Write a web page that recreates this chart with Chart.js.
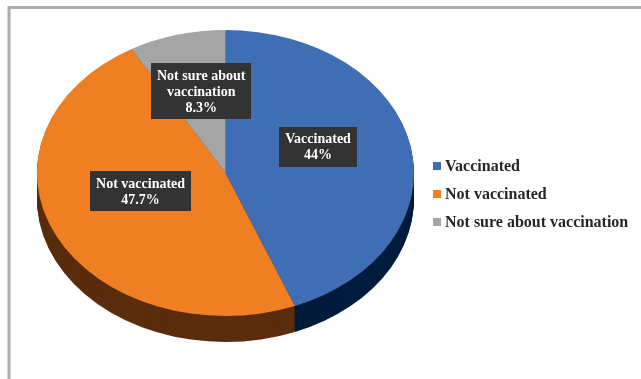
<!DOCTYPE html>
<html>
<head>
<meta charset="utf-8">
<script src="https://cdn.jsdelivr.net/npm/chart.js@4.4.1/dist/chart.umd.min.js"></script>
<style>
  html, body { margin: 0; padding: 0; background: #fff; overflow: hidden; }
  #wrap { position: relative; width: 641px; height: 379px; }
</style>
</head>
<body>
<div id="wrap"><canvas id="chart" width="641" height="379"></canvas></div>
<script>
// Survey answers on COVID-19 vaccination status (share of respondents, %)
const categories = ['Vaccinated', 'Not vaccinated', 'Not sure about vaccination'];
const shares = [44, 47.7, 8.3];
// category names as they are wrapped inside the slice labels
const labelLines = [['Vaccinated'], ['Not vaccinated'], ['Not sure about', 'vaccination']];

const topColors = ['#3F6EB5', '#F07E22', '#A5A5A5'];
const sideColors = ['#001B3C', '#5A2D0E', '#4A4A4A'];

// Tilted-pie geometry (screen pixels)
const CX = 225.5;      // ellipse centre x
const CY = 173;        // ellipse centre y
const RX = 188.5;      // horizontal radius
const RY = 143;        // vertical radius
const DEPTH = 26;      // thickness of the disc
const K = RY / RX;     // vertical squash
const LABEL_Y = 160;   // vanishing centre used for label placement

const tiltedPie = {
  id: 'tiltedPie',
  beforeDraw(chart) {
    const ctx = chart.ctx;
    ctx.save();
    ctx.strokeStyle = '#ADADAD';
    ctx.lineWidth = 3;
    ctx.beginPath();
    ctx.moveTo(9, 379);
    ctx.lineTo(9, 7.5);
    ctx.lineTo(641, 7.5);
    ctx.stroke();
    ctx.restore();
  },
  beforeDatasetsDraw(chart) {
    const ctx = chart.ctx;
    const arcs = chart.getDatasetMeta(0).data;
    const cy0 = arcs[0].y;
    ctx.save();
    ctx.translate(0, CY);
    ctx.scale(1, K);
    ctx.translate(0, -cy0);
    // side wall: the same arcs stacked downwards in darker tones
    for (let d = DEPTH; d >= 1; d--) {
      ctx.save();
      ctx.translate(0, d / K);
      arcs.forEach((arc, i) => {
        const opts = arc.options;
        arc.options = Object.assign({}, opts, { backgroundColor: sideColors[i], borderWidth: 0 });
        arc.draw(ctx);
        arc.options = opts;
      });
      ctx.restore();
    }
  },
  afterDatasetsDraw(chart) {
    const ctx = chart.ctx;
    ctx.restore();
    const arcs = chart.getDatasetMeta(0).data;

    // value labels on dark boxes
    ctx.save();
    ctx.font = 'bold 14px "Liberation Serif", "Times New Roman", serif';
    ctx.textAlign = 'center';
    ctx.textBaseline = 'middle';
    const lineH = 16;
    arcs.forEach((arc, i) => {
      const mid = (arc.startAngle + arc.endAngle) / 2;
      const x = CX + 0.5 * RX * Math.cos(mid);
      const y = LABEL_Y + 0.5 * RY * Math.sin(mid);
      const lines = labelLines[i].concat([shares[i] + '%']);
      const w = Math.max(...lines.map(t => ctx.measureText(t).width)) + 12;
      const h = lines.length * lineH + 8;
      ctx.fillStyle = '#333333';
      ctx.fillRect(Math.round(x - w / 2), Math.round(y - h / 2), Math.round(w), Math.round(h));
      ctx.fillStyle = '#FFFFFF';
      lines.forEach((t, j) => {
        ctx.fillText(t, x, y - (lines.length - 1) * lineH / 2 + j * lineH + 1);
      });
    });
    ctx.restore();

    // legend
    ctx.save();
    ctx.font = 'bold 16px "Liberation Serif", "Times New Roman", serif';
    ctx.textAlign = 'left';
    ctx.textBaseline = 'middle';
    const lx = 433, ly = 166, step = 28, box = 8;
    categories.forEach((name, i) => {
      const y = ly + i * step;
      ctx.fillStyle = topColors[i];
      ctx.fillRect(lx, y - box / 2, box, box);
      ctx.fillStyle = '#262626';
      ctx.fillText(name, lx + 12, y + 1);
    });
    ctx.restore();
  }
};

new Chart(document.getElementById('chart'), {
  type: 'pie',
  data: {
    labels: categories,
    datasets: [{
      data: shares,
      backgroundColor: topColors,
      borderWidth: 0,
      radius: RX,
      clip: false
    }]
  },
  options: {
    responsive: false,
    animation: false,
    events: [],
    layout: { padding: { left: CX - RX, right: 641 - (CX + RX), top: 0, bottom: 0 } },
    plugins: {
      legend: { display: false },
      tooltip: { enabled: false }
    }
  },
  plugins: [tiltedPie]
});
</script>
</body>
</html>
